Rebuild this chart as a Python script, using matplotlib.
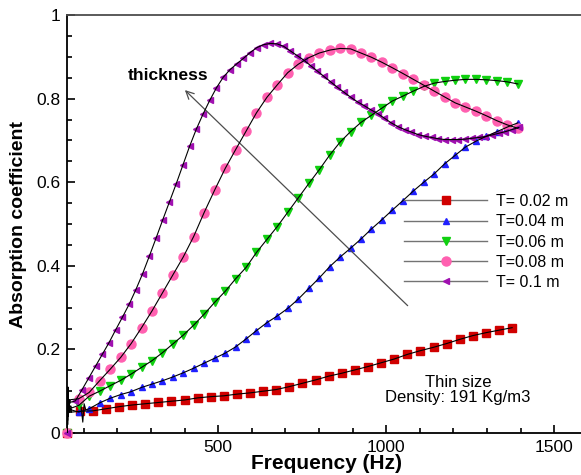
import numpy as np
import matplotlib.pyplot as plt
from matplotlib.lines import Line2D
from matplotlib.ticker import MultipleLocator

plt.rcParams['font.family'] = ['Liberation Sans', 'DejaVu Sans']

labels = ["T= 0.02 m", "T=0.04 m", "T=0.06 m", "T=0.08 m", "T= 0.1 m"]
colors = ["#d00000", "#2020ff", "#10d010", "#ff60b0", "#a010b0"]
markers = ["s", "^", "v", "o", "<"]
msizes = [5.5, 5.0, 5.5, 6.5, 5.0]

# T = 0.02 m
freq_02 = [88, 127, 166, 205, 244, 283, 322, 361, 400, 439, 478, 517, 556, 595,
           634, 673, 712, 751, 790, 829, 868, 907, 946, 985, 1024, 1063, 1102,
           1141, 1180, 1219, 1258, 1297, 1336, 1375]
absorb_02 = [0.052, 0.053, 0.058, 0.063, 0.067, 0.070, 0.073, 0.076, 0.079, 0.084,
             0.087, 0.089, 0.093, 0.096, 0.100, 0.104, 0.111, 0.119, 0.127, 0.136,
             0.143, 0.151, 0.159, 0.168, 0.177, 0.188, 0.197, 0.205, 0.214, 0.224,
             0.233, 0.240, 0.246, 0.252]

# shared frequency grid for T = 0.04, 0.06, 0.08 m
freq_mid = [85, 116, 147, 178, 210, 241, 272, 303, 334, 365, 396, 427, 458, 490,
            521, 552, 583, 614, 645, 676, 707, 738, 770, 801, 832, 863, 894, 925,
            956, 987, 1018, 1050, 1081, 1112, 1143, 1174, 1205, 1236, 1267, 1298,
            1330, 1361, 1392]
absorb_04 = [0.050, 0.058, 0.072, 0.083, 0.092, 0.099, 0.109, 0.117, 0.125, 0.134,
             0.144, 0.155, 0.167, 0.179, 0.191, 0.206, 0.225, 0.245, 0.264, 0.280,
             0.298, 0.320, 0.346, 0.371, 0.398, 0.421, 0.442, 0.464, 0.488, 0.510,
             0.533, 0.556, 0.579, 0.600, 0.620, 0.644, 0.664, 0.684, 0.698, 0.710,
             0.721, 0.732, 0.742]
absorb_06 = [0.066, 0.088, 0.100, 0.113, 0.126, 0.141, 0.157, 0.173, 0.192, 0.213,
             0.234, 0.258, 0.284, 0.313, 0.339, 0.369, 0.396, 0.432, 0.463, 0.494,
             0.528, 0.562, 0.597, 0.630, 0.665, 0.696, 0.721, 0.743, 0.760, 0.777,
             0.794, 0.806, 0.818, 0.829, 0.837, 0.841, 0.844, 0.846, 0.846, 0.845,
             0.843, 0.840, 0.835]
absorb_08 = [0.082, 0.097, 0.125, 0.152, 0.181, 0.214, 0.252, 0.292, 0.335, 0.378,
             0.421, 0.470, 0.527, 0.582, 0.633, 0.678, 0.722, 0.766, 0.803, 0.833,
             0.862, 0.882, 0.898, 0.909, 0.916, 0.920, 0.919, 0.909, 0.899, 0.887,
             0.874, 0.860, 0.846, 0.832, 0.818, 0.804, 0.790, 0.780, 0.770, 0.759,
             0.747, 0.737, 0.729]

# T = 0.1 m
freq_10 = [75, 95, 115, 135, 155, 175, 195, 215, 235, 255, 275, 295, 315, 335,
           355, 375, 395, 415, 435, 455, 475, 495, 515, 535, 555, 575, 595, 615,
           635, 655, 675, 695, 715, 735, 755, 775, 795, 815, 835, 855, 875, 895,
           915, 935, 955, 975, 995, 1015, 1035, 1055, 1075, 1095, 1115, 1135, 1155,
           1175, 1195, 1215, 1235, 1255, 1275, 1295, 1315, 1335, 1355, 1375, 1395]
absorb_10 = [0.077, 0.104, 0.132, 0.160, 0.188, 0.216, 0.247, 0.277, 0.308, 0.343,
             0.381, 0.423, 0.466, 0.510, 0.553, 0.596, 0.641, 0.686, 0.727, 0.763,
             0.796, 0.826, 0.851, 0.869, 0.883, 0.896, 0.910, 0.922, 0.929, 0.932,
             0.931, 0.925, 0.914, 0.903, 0.892, 0.879, 0.866, 0.853, 0.840, 0.827,
             0.815, 0.803, 0.792, 0.783, 0.773, 0.764, 0.753, 0.742, 0.733, 0.726,
             0.720, 0.714, 0.710, 0.707, 0.704, 0.702, 0.702, 0.702, 0.703, 0.705,
             0.707, 0.709, 0.713, 0.717, 0.721, 0.726, 0.731]

# noisy start of each curve (below the first marker)
lf_freq = [50, 51, 52, 53, 54, 56, 58, 61, 64]
lf_02 = [0, 0.09, 0.03, 0.08, 0.04, 0.07, 0.05, 0.06, 0.05]
lf_04 = [0, 0.10, 0.02, 0.07, 0.04, 0.08, 0.05, 0.06, 0.055]
lf_06 = [0, 0.08, 0.04, 0.11, 0.05, 0.07, 0.06, 0.065, 0.06]
lf_08 = [0, 0.11, 0.05, 0.09, 0.06, 0.08, 0.075, 0.08, 0.08]
lf_10 = [0, 0.10, 0.04, 0.09, 0.06, 0.08, 0.07, 0.075, 0.074]
dip_freq = [92, 97, 101, 106]
dip_val = [0.062, 0.026, 0.07, 0.055]

series = [
    (freq_02, absorb_02, lf_02),
    (freq_mid, absorb_04, lf_04),
    (freq_mid, absorb_06, lf_06),
    (freq_mid, absorb_08, lf_08),
    (freq_10, absorb_10, lf_10),
]

fig = plt.figure(figsize=(5.81, 4.75), dpi=100)
ax = fig.add_axes([67 / 581, 42 / 475, 514 / 581, 418 / 475])

for (f, a, lf), c, m, ms in zip(series, colors, markers, msizes):
    ax.plot(f, a, linestyle='none', marker=m, ms=ms, mfc=c, mec=c, zorder=3)
    ax.plot(lf_freq + list(f), lf + list(a), color='black', lw=0.8, zorder=4)
    ax.plot(lf_freq[0], lf[0], marker=m, ms=ms, mfc=c, mec=c, clip_on=False, zorder=3)

ax.plot(dip_freq, dip_val, color='black', lw=0.8, zorder=4)

ax.annotate('', xy=(395, 0.825), xytext=(1070, 0.30),
            arrowprops=dict(arrowstyle='->', color='0.3', lw=0.9, mutation_scale=14))
ax.text(350, 0.856, 'thickness', ha='center', va='center', fontsize=12.5,
        fontweight='bold')
ax.text(1214, 0.102, 'Thin size\nDensity: 191 Kg/m3', ha='center', va='center',
        fontsize=12, linespacing=1.0)

ax.set_xlim(50, 1580)
ax.set_ylim(0, 1)
ax.set_xticks([500, 1000, 1500])
ax.xaxis.set_minor_locator(MultipleLocator(100))
ax.set_yticks([0, 0.2, 0.4, 0.6, 0.8, 1.0])
ax.set_yticklabels(['0', '0.2', '0.4', '0.6', '0.8', '1'])
ax.yaxis.set_minor_locator(MultipleLocator(0.05))
ax.tick_params(which='both', direction='in', top=False, right=False,
               labelsize=12.5, width=1.2)
ax.tick_params(which='major', length=6, pad=5)
ax.tick_params(which='minor', length=3.5)
ax.spines['right'].set_visible(False)
for s in ['left', 'bottom', 'top']:
    ax.spines[s].set_linewidth(1.3)
ax.spines['top'].set_color('0.3')

ax.set_xlabel('Frequency (Hz)', fontsize=15, fontweight='bold')
ax.xaxis.set_label_coords(0.504, -0.05)
ax.set_ylabel('Absorption coefficient', fontsize=14, fontweight='bold')
ax.yaxis.set_label_coords(-0.078, 0.5)

handles = [Line2D([], [], color='0.45', lw=1.0, marker=m, ms=ms, mfc=c, mec=c)
           for c, m, ms in zip(colors, markers, msizes)]
fig.legend(handles, labels, loc='upper left', bbox_to_anchor=(404 / 581, 1 - 194 / 475),
           frameon=False, fontsize=11.5, handlelength=5.2, handletextpad=0.55,
           labelspacing=0.33, borderpad=0, borderaxespad=0, numpoints=1)

fig.savefig('out.png', dpi=100)
